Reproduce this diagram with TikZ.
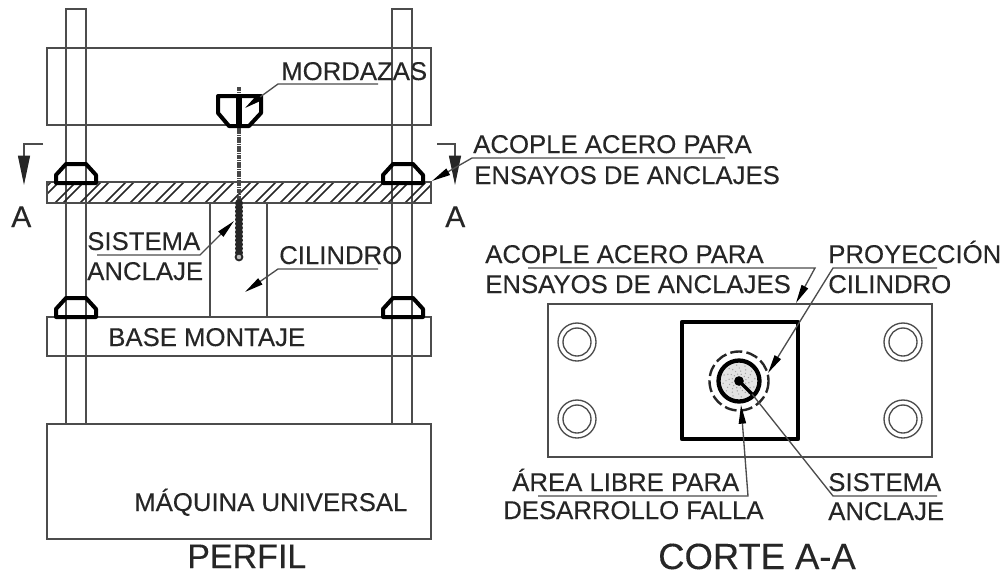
\documentclass[tikz,border=0pt]{standalone}
\usepackage{fontspec}
\setmainfont{Liberation Sans}
\newfontfamily\labfont{Liberation Sans}[FakeBold=0.25]
\usetikzlibrary{arrows.meta,calc}
\definecolor{ink}{gray}{0.15}
\definecolor{lin}{gray}{0.3}
\tikzset{
  x=0.75pt,y=-0.75pt,
  lab/.style={anchor=base west,inner sep=0pt,text=ink,font=\labfont\fontsize{19.3}{19.3}\selectfont},
  big/.style={anchor=base west,inner sep=0pt,text=ink,font=\labfont\fontsize{25.5}{25.5}\selectfont},
  bigger/.style={anchor=base west,inner sep=0pt,text=ink,font=\labfont\fontsize{27.3}{27.3}\selectfont},
  mid/.style={anchor=base west,inner sep=0pt,text=ink,font=\labfont\fontsize{22.5}{22.5}\selectfont},
  thin line/.style={draw=lin,line width=1.1pt,line join=miter},
  heavy/.style={draw=black,line width=3pt,line join=round},
  leader/.style={draw=lin,line width=1pt,-{Triangle[length=14pt,width=5.4pt,fill=black,color=black]}},
  plain leader/.style={draw=lin,line width=1pt},
  cut/.style={draw=lin,line width=0.9pt,-{Triangle[length=22pt,width=9pt,fill=ink,color=ink]}},
}
\begin{document}
\begin{tikzpicture}
\useasboundingbox (0,0) rectangle (1003,576);
% columns
\draw[thin line] (66,424) -- (66,9) -- (86,9) -- (86,424);
\draw[thin line] (392,424) -- (392,9) -- (412,9) -- (412,424);
% beams
\draw[thin line] (47,48) rectangle (431,125);
\draw[thin line] (47,317) rectangle (431,356);
\draw[thin line] (47,424) rectangle (431,539);
\draw[thin line] (210,203) rectangle (267,317);
% plate hatching
\begin{scope}
\clip (47,182) rectangle (431,203);
\foreach \x in {30,55,...,460}{
  \draw[draw=ink,line width=1.2pt] (\x,203) -- (\x+21,182);
  \draw[draw=ink,line width=1.2pt] (\x+8,203) -- (\x+29,182);
}
\end{scope}
\draw[thin line,line width=1.4pt] (47,182) rectangle (431,203);
% nuts
\foreach \nx/\ny in {56/183,383/183,56/317,383/317}{
  \draw[heavy] (\nx,\ny) -- (\nx,\ny-8) -- (\nx+10,\ny-19) -- (\nx+30,\ny-19) -- (\nx+40,\ny-8) -- (\nx+40,\ny) -- cycle;
}
% rod
\draw[draw=ink!85,line width=3.4pt,dash pattern=on 1.3pt off 0.4pt] (239,87) -- (239,203);
\draw[draw=ink,line width=5.8pt,line cap=round,dash pattern=on 0.1pt off 3pt] (239,203) -- (239,256);
\draw[draw=ink,line width=3.2pt] (239,203) -- (239,256);
\draw[draw=ink,line width=1.4pt,fill=gray!50] (239,257) circle (3.4);
% grip
\draw[heavy] (218,96) -- (261,96) -- (261,113) -- (249,126) -- (229,126) -- (218,113) -- cycle;
\draw[draw=black,line width=4.2pt] (239,95) -- (239,127);
% section marks
\coordinate (cutL0) at (43,144); \coordinate (cutL1) at (24,144); \coordinate (cutL2) at (24,185);
\coordinate (cutR0) at (437,144); \coordinate (cutR1) at (455,144); \coordinate (cutR2) at (455,185);
\draw[cut] (cutL0) -- (cutL1) -- (cutL2);
\draw[cut] (cutR0) -- (cutR1) -- (cutR2);
\node[mid] (aL) at (11,227) {A};
\node[mid] (aR) at (445,227) {A};
% left labels
\coordinate (mA) at (378,84); \coordinate (mB) at (278,84); \coordinate (mT) at (245,108);
\draw[leader] (mA) -- (mB) -- (mT);
\node[lab] (mord) at (281,80) {MORDAZAS};
\coordinate (acA) at (725,158); \coordinate (acB) at (472,158); \coordinate (acT) at (432,181);
\draw[leader] (acA) -- (acB) -- (acT);
\node[lab] (ac1) at (473,153) {ACOPLE ACERO PARA};
\node[lab] (ac2) at (474,184) {ENSAYOS DE ANCLAJES};
\coordinate (siA) at (97,255); \coordinate (siB) at (200,255); \coordinate (siT) at (234,221);
\draw[leader] (siA) -- (siB) -- (siT);
\node[lab] (si1) at (87,250) {SISTEMA};
\node[lab] (si2) at (87,280) {ANCLAJE};
\coordinate (ciA) at (378,269); \coordinate (ciB) at (278,269); \coordinate (ciT) at (245,292);
\draw[leader] (ciA) -- (ciB) -- (ciT);
\node[lab] (ci) at (279,264) {CILINDRO};
\node[lab] (base) at (108,346) {BASE MONTAJE};
\node[lab] (maq) at (134,511) {MÁQUINA UNIVERSAL};
\node[big] (perfil) at (187,568) {PERFIL};
% right view
\draw[thin line] (548,304) rectangle (932,457);
\foreach \cx/\cy in {577/342,577/419,903/342,903/419}{
  \draw[draw=lin,line width=1pt] (\cx,\cy) circle (19);
  \draw[draw=lin,line width=1pt] (\cx,\cy) circle (14);
}
\draw[draw=black,line width=3.2pt,line join=round] (682,322) rectangle (798,439);
\fill[gray!22] (739,381) circle (20);
\foreach \a in {0,30,...,330}{\foreach \r in {4,7,10,13,16}{\fill[gray!75] ($(739,381)+(\a+\r*7:\r)$) circle (0.7);}}
\draw[draw=black,line width=3.2pt] (739,381) circle (20.5);
\draw[draw=ink,line width=1.8pt,dash pattern=on 9pt off 3.2pt] (739,381) circle (29.5);
\fill[black] (739,381) circle (4.8);
\coordinate (sysA) at (937,496); \coordinate (sysB) at (833,496); \coordinate (sysC) at (752,394); \coordinate (ctr) at (739,381);
\draw[plain leader] (sysA) -- (sysB) -- (sysC);
\draw[draw=black,line width=2.6pt] (ctr) -- (sysC);
\coordinate (arA) at (538,496); \coordinate (arB) at (748,496); \coordinate (arT) at (741,405);
\draw[leader] (arA) -- (arB) -- (arT);
\coordinate (prA) at (937,268); \coordinate (prB) at (833,268); \coordinate (prT) at (768,373);
\draw[leader] (prA) -- (prB) -- (prT);
\coordinate (a2A) at (528,268); \coordinate (a2B) at (815,268); \coordinate (a2T) at (796,303);
\draw[leader] (a2A) -- (a2B) -- (a2T);
\node[lab] (b1) at (485,263) {ACOPLE ACERO PARA};
\node[lab] (b2) at (485,293) {ENSAYOS DE ANCLAJES};
\node[lab] (p1) at (828,263) {PROYECCIÓN};
\node[lab] (p2) at (828,293) {CILINDRO};
\node[lab] (f1) at (512,491) {ÁREA LIBRE PARA};
\node[lab] (f2) at (503,519) {DESARROLLO FALLA};
\node[lab] (s1) at (828,491) {SISTEMA};
\node[lab] (s2) at (828,520) {ANCLAJE};
\node[bigger] (corte) at (658,569) {CORTE A-A};
\end{tikzpicture}
\end{document}
